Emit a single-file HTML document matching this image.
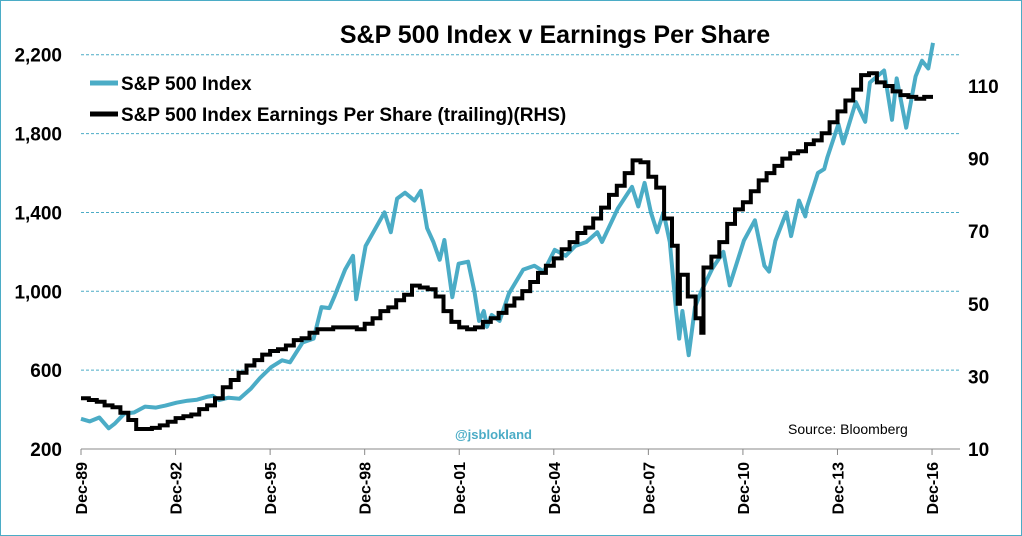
<!DOCTYPE html>
<html><head><meta charset="utf-8"><style>
html,body{margin:0;padding:0;background:#fff;}
svg{display:block;font-family:"Liberation Sans",sans-serif;}
</style></head><body>
<svg id="c" width="1022" height="536">
<rect x="0.5" y="0.5" width="1021" height="535" fill="#fff" stroke="#4bacc6" stroke-width="1"/>
<text x="555" y="43" text-anchor="middle" font-size="25" font-weight="bold" fill="#000">S&amp;P 500 Index v Earnings Per Share</text>
</svg>
<script>
const spDates=[1989.92,1990.2,1990.5,1990.8,1991.0,1991.3,1991.6,1991.95,1992.3,1992.6,1992.95,1993.3,1993.6,1993.95,1994.1,1994.3,1994.6,1994.95,1995.3,1995.6,1995.95,1996.3,1996.55,1996.95,1997.3,1997.55,1997.8,1997.95,1998.3,1998.55,1998.65,1998.95,1999.3,1999.55,1999.75,1999.95,2000.2,2000.5,2000.7,2000.9,2001.1,2001.3,2001.45,2001.7,2001.9,2002.2,2002.4,2002.55,2002.7,2002.8,2002.95,2003.2,2003.5,2003.95,2004.3,2004.6,2004.95,2005.3,2005.6,2005.95,2006.3,2006.45,2006.95,2007.4,2007.6,2007.8,2008.0,2008.2,2008.4,2008.6,2008.8,2008.9,2009.0,2009.2,2009.4,2009.6,2009.95,2010.3,2010.5,2010.95,2011.3,2011.6,2011.75,2011.95,2012.3,2012.45,2012.7,2012.9,2012.95,2013.3,2013.5,2013.6,2013.95,2014.1,2014.5,2014.8,2014.95,2015.4,2015.65,2015.8,2016.1,2016.4,2016.6,2016.8,2016.95];
const spValues=[353,340,360,305,330,380,385,415,410,420,435,445,450,466,470,448,460,455,505,560,615,650,640,740,760,920,915,970,1110,1180,960,1230,1330,1400,1300,1470,1500,1460,1510,1320,1250,1160,1260,970,1140,1150,1000,850,900,820,880,850,990,1110,1130,1100,1210,1180,1230,1250,1300,1250,1420,1530,1430,1550,1400,1300,1400,1250,900,760,900,676,920,1000,1115,1200,1030,1257,1360,1130,1100,1257,1400,1280,1460,1380,1426,1600,1620,1680,1848,1750,1960,1860,2059,2120,1870,2080,1830,2090,2170,2130,2260];
const epsDates=[1989.92,1990.17,1990.42,1990.67,1990.92,1991.17,1991.42,1991.67,1991.92,1992.17,1992.42,1992.67,1992.92,1993.17,1993.42,1993.67,1993.92,1994.17,1994.42,1994.67,1994.92,1995.17,1995.42,1995.67,1995.92,1996.17,1996.42,1996.67,1996.92,1997.17,1997.42,1997.67,1997.92,1998.17,1998.42,1998.67,1998.92,1999.17,1999.42,1999.67,1999.92,2000.17,2000.42,2000.67,2000.92,2001.17,2001.42,2001.67,2001.92,2002.17,2002.42,2002.67,2002.92,2003.17,2003.42,2003.67,2003.92,2004.17,2004.42,2004.67,2004.92,2005.17,2005.42,2005.67,2005.92,2006.17,2006.42,2006.67,2006.92,2007.17,2007.42,2007.67,2007.92,2008.17,2008.42,2008.67,2008.85,2008.92,2009.17,2009.42,2009.6,2009.67,2009.92,2010.17,2010.42,2010.67,2010.92,2011.17,2011.42,2011.67,2011.92,2012.17,2012.42,2012.67,2012.92,2013.17,2013.42,2013.67,2013.92,2014.17,2014.42,2014.67,2014.92,2015.17,2015.42,2015.67,2015.92,2016.17,2016.42,2016.67,2016.95];
const epsValues=[24,23.5,23,22,21.5,20,18,15.5,15.5,15.8,16.5,17.5,18.5,19,19.5,21,22,24,27,29,31,33,34.5,36,37,37.5,38.5,40,40.5,42,43,43,43.5,43.5,43.5,43,44.5,46,48,49,51,52.5,55,54.5,54,52,48,45,43.5,43,43.5,45,46,47.5,49.5,51.5,53.5,56,58.5,60.5,62.5,65,67,69.5,71,73.5,76.5,80,82.5,86,89.5,89,85,82,73.5,66,50,58,52,46,42,60,63,67,72,76,78,81,84,86,88,90,91.5,92,94,95,97,100,103,106,109,113,113.5,111,110,108.5,107.5,107,106.5,107,107];
const leftTicks=[200,600,1000,1400,1800,2200];
const leftLabels=["200","600","1,000","1,400","1,800","2,200"];
const rightTicks=[10,30,50,70,90,110];
const xTickYears=[1989.92,1992.92,1995.92,1998.92,2001.92,2004.92,2007.92,2010.92,2013.92,2016.92];
const xTickLabels=["Dec-89","Dec-92","Dec-95","Dec-98","Dec-01","Dec-04","Dec-07","Dec-10","Dec-13","Dec-16"];

const NS="http://www.w3.org/2000/svg";
const svg=document.getElementById('c');
const X=t=>81+(t-1989.92)*31.52;
const YL=v=>449-(v-200)*0.19713;
const YR=v=>449-(v-10)*3.63;
function mk(tag,attrs,parent){const e=document.createElementNS(NS,tag);for(const k in attrs)e.setAttribute(k,attrs[k]);(parent||svg).appendChild(e);return e;}

leftTicks.forEach((v,i)=>{
  if(i>0){const g=mk('line',{x1:81,x2:960,y1:YL(v),y2:YL(v),stroke:'#4bacc6','stroke-width':1,'stroke-dasharray':'3,2'});
  
  }
  const t=mk('text',{x:62,y:YL(v)+7,'text-anchor':'end','font-size':19,'font-weight':'bold'});
  t.textContent=leftLabels[i];
  
  
});
rightTicks.forEach(v=>{
  const t=mk('text',{x:968,y:YR(v)+7,'font-size':19,'font-weight':'bold'});
  t.textContent=String(v);
  
  
});
const ax=mk('line',{x1:81,x2:960,y1:449,y2:449,stroke:'#888','stroke-width':1});


xTickYears.forEach((t,i)=>{
  const tk=mk('line',{x1:X(t),x2:X(t),y1:449,y2:455,stroke:'#888'});
  
  
  const lb=mk('text',{x:0,y:0,'font-size':16,'font-weight':'bold','text-anchor':'end',transform:`translate(${X(t)+6},462) rotate(-90)`});
  lb.textContent=xTickLabels[i];
  
  
});

let d='';
spDates.forEach((t,i)=>{d+=(i?'L':'M')+X(t).toFixed(1)+','+YL(spValues[i]).toFixed(1);});
const sp=mk('path',{d:d,fill:'none',stroke:'#4bacc6','stroke-width':4,'stroke-linejoin':'round'});



let e='';
epsDates.forEach((t,i)=>{const x=X(t).toFixed(1),y=YR(epsValues[i]).toFixed(1);
  if(i===0)e+='M'+x+','+y;else e+='H'+x+'V'+y;});
const ep=mk('path',{d:e,fill:'none',stroke:'#000','stroke-width':4});



const l1=mk('line',{x1:90,x2:118,y1:83,y2:83,stroke:'#4bacc6','stroke-width':5});


const t1=mk('text',{x:121,y:90,'font-size':19,'font-weight':'bold'});
t1.textContent='S&P 500 Index';


const l2=mk('line',{x1:90,x2:118,y1:114,y2:114,stroke:'#000','stroke-width':5});


const t2=mk('text',{x:121,y:121,'font-size':19,'font-weight':'bold'});
t2.textContent='S&P 500 Index Earnings Per Share (trailing)(RHS)';


const wm=mk('text',{x:455,y:439,'font-size':13,'font-weight':'bold',fill:'#4bacc6'});
wm.textContent='@jsblokland';


const src=mk('text',{x:788,y:434,'font-size':14,fill:'#000'});
src.textContent='Source: Bloomberg';


</script>
</body></html>
